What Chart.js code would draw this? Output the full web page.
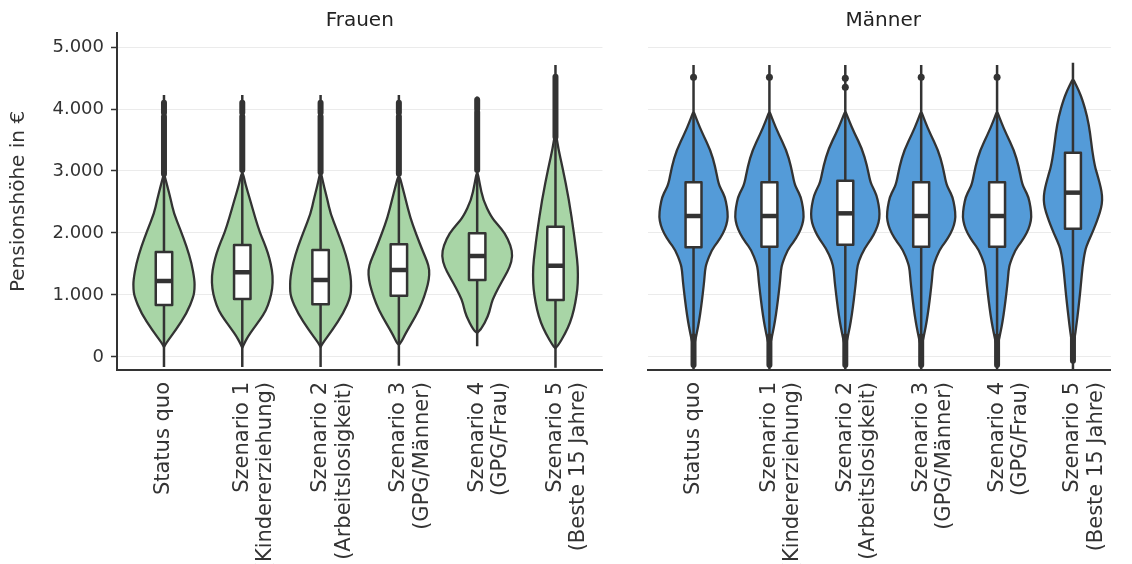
<!DOCTYPE html>
<html>
<head>
<meta charset="utf-8">
<script src="https://cdn.jsdelivr.net/npm/chart.js@4"></script>
<style>
  html, body { margin: 0; padding: 0; background: #ffffff; }
  #wrap { position: relative; width: 1132px; height: 564px; overflow: hidden; }
  .panel { position: absolute; top: 0; height: 564px; }
  #pL { left: 0; width: 615px; }
  #pR { left: 615px; width: 517px; }
</style>
</head>
<body>
<div id="wrap">
  <div class="panel" id="pL"><canvas id="cL"></canvas></div>
  <div class="panel" id="pR"><canvas id="cR"></canvas></div>
</div>
<script>
// ---------------- DATA ----------------
const categories = [
  ['Status quo'],
  ['Szenario 1', '(Kindererziehung)'],
  ['Szenario 2', '(Arbeitslosigkeit)'],
  ['Szenario 3', '(GPG/Männer)'],
  ['Szenario 4', '(GPG/Frau)'],
  ['Szenario 5', '(Beste 15 Jahre)']
];
const panelTitles = ['Frauen', 'Männer'];
const yTickValues = [0, 1000, 2000, 3000, 4000, 5000];
const yTickLabels = ['0', '1.000', '2.000', '3.000', '4.000', '5.000'];
const yAxisTitle = 'Pensionshöhe in €';

// box statistics (€)
const frauenQ1     = [839, 935, 849, 989, 1242, 919];
const frauenMedian = [1226, 1366, 1242, 1403, 1629, 1473];
const frauenQ3     = [1693, 1806, 1726, 1817, 1995, 2102];
const frauenMin    = [-160, -160, -160, -140, 172, -172];
const frauenMax    = [4226, 4226, 4226, 4226, 4200, 4710];
const frauenDense  = [
  [[2950, 3880], [3940, 4100]],
  [[3016, 3880], [3940, 4100]],
  [[2980, 3880], [3940, 4100]],
  [[2957, 3880], [3940, 4100]],
  [[3016, 3950], [4000, 4150]],
  [[3550, 4520]]
];
const frauenDots = [[], [], [], [], [], []];

const maennerQ1     = [1769, 1779, 1812, 1779, 1779, 2070];
const maennerMedian = [2274, 2274, 2317, 2274, 2274, 2651];
const maennerQ3     = [2817, 2817, 2844, 2817, 2817, 3296];
const maennerMin    = [-200, -200, -200, -200, -200, -200];
const maennerMax    = [4710, 4710, 4710, 4710, 4710, 4747];
const maennerDense  = [
  [[-130, 330]], [[-130, 330]], [[-130, 330]], [[-130, 330]], [[-130, 330]], [[-60, 330]]
];
const maennerDots = [[4511], [4511], [4495, 4350], [4511], [4511], []];

// violin densities: [value €, relative density]
const frauenViolin = [
  [[160,0],[221,.056],[435,.336],[704,.644],[973,.84],[1100,.868],[1242,.868],[1511,.784],[1779,.644],[2048,.468],[2317,.28],[2532,.196],[2750,.098],[2900,.028],[2950,0]],
  [[150,0],[250,.084],[333,.168],[450,.308],[602,.504],[750,.672],[925,.784],[1100,.854],[1301,.868],[1500,.812],[1677,.728],[1850,.616],[2000,.504],[2250,.364],[2532,.224],[2800,.084],[3016,0]],
  [[160,0],[221,.056],[435,.336],[704,.644],[973,.854],[1150,.868],[1300,.854],[1511,.784],[1779,.644],[2048,.462],[2317,.28],[2532,.196],[2750,.098],[2930,.028],[2980,0]],
  [[200,0],[225,.056],[387,.196],[656,.476],[850,.644],[1086,.784],[1250,.854],[1409,.868],[1550,.798],[1677,.7],[2000,.476],[2250,.322],[2532,.196],[2750,.098],[2957,0]],
  [[387,0],[441,.112],[656,.308],[800,.378],[925,.434],[1100,.588],[1301,.784],[1450,.924],[1624,1.008],[1800,.952],[2000,.784],[2130,.588],[2263,.392],[2532,.168],[2800,.07],[3016,0]],
  [[145,0],[167,.056],[382,.28],[560,.42],[758,.524],[1000,.602],[1188,.636],[1457,.636],[1700,.588],[1995,.524],[2532,.384],[3070,.196],[3350,.084],[3650,0]]
];
const maennerViolin = [
  [[150,0],[328,.076],[650,.188],[1188,.308],[1400,.336],[1511,.378],[1726,.532],[1850,.7],[1995,.868],[2130,.966],[2263,1.008],[2420,.98],[2586,.916],[2700,.812],[2801,.728],[3070,.636],[3339,.496],[3608,.26],[3800,.112],[3903,.042],[3960,0]],
  [[150,0],[328,.076],[650,.188],[1188,.308],[1400,.336],[1511,.378],[1726,.53],[1850,.7],[1995,.866],[2130,.966],[2263,1.008],[2420,.98],[2586,.916],[2700,.812],[2801,.728],[3070,.636],[3339,.496],[3608,.26],[3800,.112],[3903,.042],[3960,0]],
  [[150,0],[328,.076],[650,.188],[1188,.308],[1400,.336],[1550,.392],[1750,.56],[1900,.756],[2040,.896],[2170,.98],[2300,1.008],[2450,.98],[2620,.91],[2730,.812],[2830,.728],[3090,.636],[3360,.49],[3620,.26],[3810,.112],[3910,.042],[3960,0]],
  [[150,0],[328,.076],[650,.188],[1188,.308],[1400,.336],[1511,.378],[1726,.532],[1850,.7],[1995,.868],[2130,.966],[2263,1.008],[2420,.98],[2586,.916],[2700,.812],[2801,.728],[3070,.636],[3339,.496],[3608,.26],[3800,.112],[3903,.042],[3960,0]],
  [[150,0],[328,.076],[650,.188],[1188,.308],[1400,.336],[1511,.378],[1726,.532],[1850,.7],[1995,.868],[2130,.966],[2263,1.008],[2420,.98],[2586,.916],[2700,.812],[2801,.728],[3070,.636],[3339,.496],[3608,.26],[3800,.112],[3903,.042],[3960,0]],
  [[150,0],[382,.076],[919,.188],[1200,.238],[1457,.28],[1726,.356],[1860,.448],[1995,.56],[2130,.658],[2263,.748],[2400,.826],[2532,.86],[2670,.84],[2801,.784],[2940,.714],[3070,.644],[3339,.56],[3608,.504],[3876,.42],[4145,.28],[4300,.168],[4441,.042],[4480,0]]
];

// ---------------- STYLE ----------------
const FONT = '"DejaVu Sans", "Open Sans", sans-serif';
const INK = '#333333';
const GRID = '#ebebeb';
const FILL = ['#a8d5a6', '#549bd8'];
const VIOLIN_HALF = 0.45;   // category units for density 1
const BOX_HALF = 0.105;

function smoothPath(ctx, pts) {
  ctx.moveTo(pts[0][0], pts[0][1]);
  for (let i = 1; i < pts.length - 1; i++) {
    const mx = (pts[i][0] + pts[i + 1][0]) / 2;
    const my = (pts[i][1] + pts[i + 1][1]) / 2;
    ctx.quadraticCurveTo(pts[i][0], pts[i][1], mx, my);
  }
  const l = pts[pts.length - 1];
  ctx.lineTo(l[0], l[1]);
}

function violinPlugin(group) {
  return {
    id: 'violins' + group.name,
    beforeDatasetsDraw(chart) {
      const xs = chart.scales.x, ys = chart.scales.y, ctx = chart.ctx, a = chart.chartArea;
      ctx.save();
      ctx.beginPath();
      ctx.rect(a.left, a.top - 40, a.right - a.left, a.bottom - a.top + 40);
      ctx.clip();
      for (let i = 0; i < categories.length; i++) {
        const cx = xs.getPixelForValue(i);
        const unit = xs.getPixelForValue(i + 1) - cx;
        const v = group.violin[i];
        const right = v.map(p => [cx + p[1] * VIOLIN_HALF * unit, ys.getPixelForValue(p[0])]);
        const left = v.slice().reverse().map(p => [cx - p[1] * VIOLIN_HALF * unit, ys.getPixelForValue(p[0])]);
        const pts = right.concat(left.slice(1));
        ctx.beginPath();
        smoothPath(ctx, pts);
        ctx.closePath();
        ctx.fillStyle = group.fill;
        ctx.fill();
        ctx.lineWidth = 2.3;
        ctx.strokeStyle = INK;
        ctx.lineJoin = 'round';
        ctx.stroke();
        // whisker / extent line
        ctx.beginPath();
        ctx.moveTo(cx, ys.getPixelForValue(group.min[i]));
        ctx.lineTo(cx, ys.getPixelForValue(group.max[i]));
        ctx.lineWidth = 2.5;
        ctx.lineCap = 'butt';
        ctx.stroke();
        // dense outliers
        ctx.lineCap = 'round';
        group.dense[i].forEach(r => {
          ctx.beginPath();
          ctx.moveTo(cx, ys.getPixelForValue(r[0]));
          ctx.lineTo(cx, ys.getPixelForValue(r[1]));
          ctx.lineWidth = 6;
          ctx.stroke();
        });
        ctx.lineCap = 'butt';
        // single outliers
        ctx.fillStyle = INK;
        group.dots[i].forEach(d => {
          ctx.beginPath();
          ctx.arc(cx, ys.getPixelForValue(d), 3.5, 0, Math.PI * 2);
          ctx.fill();
        });
        // box
        const bx = BOX_HALF * unit;
        const yq1 = ys.getPixelForValue(group.q1[i]);
        const yq3 = ys.getPixelForValue(group.q3[i]);
        ctx.fillStyle = '#ffffff';
        ctx.fillRect(cx - bx, yq3, 2 * bx, yq1 - yq3);
        ctx.lineWidth = 2.5;
        ctx.strokeStyle = INK;
        ctx.strokeRect(cx - bx, yq3, 2 * bx, yq1 - yq3);
        const ym = ys.getPixelForValue(group.median[i]);
        ctx.beginPath();
        ctx.moveTo(cx - bx, ym);
        ctx.lineTo(cx + bx, ym);
        ctx.lineWidth = 4.5;
        ctx.stroke();
      }
      ctx.restore();
    },
    afterDraw(chart) {
      const xs = chart.scales.x, ctx = chart.ctx;
      ctx.save();
      ctx.font = '20px ' + FONT;
      ctx.fillStyle = '#222222';
      ctx.textAlign = 'center';
      ctx.textBaseline = 'middle';
      ctx.fillText(group.title, xs.getPixelForValue(2.5), 21);
      ctx.restore();
    }
  };
}

function makeChart(canvasId, group, isLeft) {
  const yAxisWidth = isLeft ? 117 : 33;
  return new Chart(document.getElementById(canvasId), {
    type: 'scatter',
    data: { datasets: [] },
    options: {
      responsive: true,
      maintainAspectRatio: false,
      animation: false,
      devicePixelRatio: 1,
      layout: { padding: { top: 33, right: isLeft ? 5 : 0, left: 0, bottom: 0 } },
      plugins: { legend: { display: false }, tooltip: { enabled: false } },
      scales: {
        x: {
          type: 'linear',
          min: -0.6,
          max: isLeft ? 5.6 : 5.5,
          afterBuildTicks: s => { s.ticks = categories.map((c, i) => ({ value: i })); },
          afterFit: s => { s.height = 194; },
          grid: { display: false, drawTicks: false },
          border: { display: true, color: INK, width: 2 },
          ticks: {
            autoSkip: false,
            minRotation: 90,
            maxRotation: 90,
            padding: 12,
            color: INK,
            font: { family: FONT, size: 21, lineHeight: 1.12 },
            callback: v => categories[v]
          }
        },
        y: {
          type: 'linear',
          min: -210,
          max: 5226,
          afterBuildTicks: s => { s.ticks = yTickValues.map(v => ({ value: v })); },
          afterFit: s => { s.width = yAxisWidth; },
          grid: {
            color: GRID,
            lineWidth: 1,
            drawTicks: isLeft,
            tickLength: 6,
            tickColor: INK,
            tickWidth: 1.5
          },
          border: { display: isLeft, color: INK, width: 2 },
          ticks: {
            display: isLeft,
            padding: 7,
            color: INK,
            font: { family: FONT, size: 18 },
            callback: v => yTickLabels[yTickValues.indexOf(v)]
          },
          title: {
            display: isLeft,
            text: yAxisTitle,
            color: INK,
            font: { family: FONT, size: 20 },
            padding: { top: 7, bottom: 0 }
          }
        }
      }
    },
    plugins: [violinPlugin(group)]
  });
}

makeChart('cL', {
  name: 'F', title: panelTitles[0], fill: FILL[0], violin: frauenViolin,
  q1: frauenQ1, median: frauenMedian, q3: frauenQ3, min: frauenMin, max: frauenMax,
  dense: frauenDense, dots: frauenDots
}, true);
makeChart('cR', {
  name: 'M', title: panelTitles[1], fill: FILL[1], violin: maennerViolin,
  q1: maennerQ1, median: maennerMedian, q3: maennerQ3, min: maennerMin, max: maennerMax,
  dense: maennerDense, dots: maennerDots
}, false);
</script>
</body>
</html>
